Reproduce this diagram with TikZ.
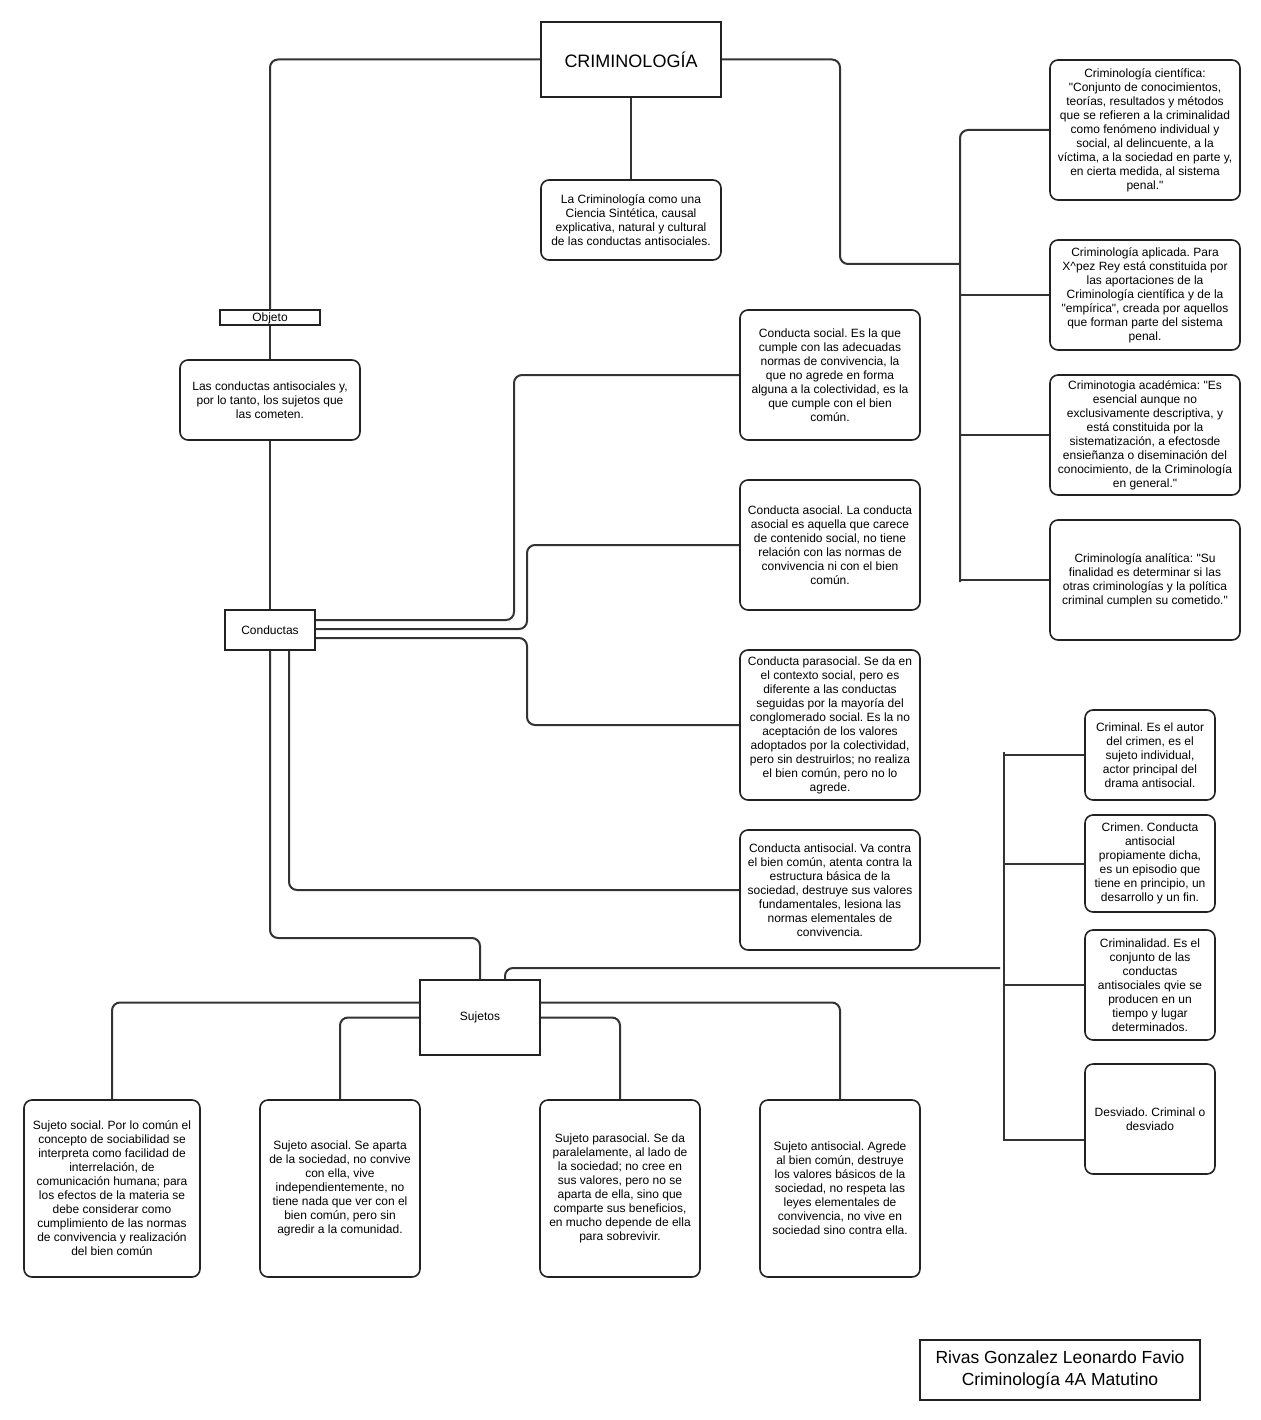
\documentclass[tikz,border=0pt]{standalone}
\usepackage{fontspec}
\setmainfont{Liberation Sans}
\newfontfamily\plainfont{Liberation Sans}[Ligatures=TeXOff]
\usetikzlibrary{calc}
\definecolor{boxc}{HTML}{222222}
\definecolor{linec}{HTML}{333333}
\newcommand\qq{{\plainfont\symbol{34}}}
\frenchspacing
\begin{document}
\begin{tikzpicture}[x=1pt,y=-1pt,
  rbox/.style={draw=boxc, line width=1.6pt, rounded corners=8pt, fill=white, align=center, inner sep=0pt, font=\fontsize{12}{14}\selectfont},
  sbox/.style={draw=boxc, line width=1.6pt, fill=white, align=center, inner sep=0pt, font=\fontsize{12}{14}\selectfont},
  conn/.style={draw=linec, line width=2pt, rounded corners=8pt},
  sconn/.style={draw=linec, line width=2pt},
]
\useasboundingbox[fill=white] (0,0) rectangle (1260,1420);

% top
\node[sbox, minimum width=180, minimum height=75, font=\fontsize{18}{22}\selectfont] (crim) at (631,59.5) {CRIMINOLOGÍA};
\node[rbox, minimum width=180, minimum height=80] (cien) at (631,220) {La Criminología como una\\Ciencia Sintética, causal\\explicativa, natural y cultural\\de las conductas antisociales.};
\node[sbox, minimum width=100, minimum height=15, line width=1.4pt, text depth=1pt] (obj) at (270,317.5) {Objeto};
\node[rbox, minimum width=180, minimum height=80] (lasc) at (270,400) {Las conductas antisociales y,\\por lo tanto, los sujetos que\\las cometen.};
\node[sbox, minimum width=90, minimum height=40] (cond) at (270,630) {Conductas};

% right column
\node[rbox, minimum width=190, minimum height=140] (c1) at (1145,130) {Criminología científica:\\\qq Conjunto de conocimientos,\\teorías, resultados y métodos\\que se refieren a la criminalidad\\como fenómeno individual y\\social, al delincuente, a la\\víctima, a la sociedad en parte y,\\en cierta medida, al sistema\\penal.\qq};
\node[rbox, minimum width=190, minimum height=110] (c2) at (1145,295) {Criminología aplicada. Para\\X\textasciicircum pez Rey está constituida por\\las aportaciones de la\\Criminología científica y de la\\\qq empírica\qq, creada por aquellos\\que forman parte del sistema\\penal.};
\node[rbox, minimum width=190, minimum height=120] (c3) at (1145,435) {Criminotogia académica: \qq Es\\esencial aunque no\\exclusivamente descriptiva, y\\está constituida por la\\sistematización, a efectosde\\ensieñanza o diseminación del\\conocimiento, de la Criminología\\en general.\qq};
\node[rbox, minimum width=190, minimum height=120] (c4) at (1145,580) {Criminología analítica: \qq Su\\finalidad es determinar si las\\otras criminologías y la política\\criminal cumplen su cometido.\qq};

% conductas column
\node[rbox, minimum width=180, minimum height=130] (csoc) at (830,375) {Conducta social. Es la que\\cumple con las adecuadas\\normas de convivencia, la\\que no agrede en forma\\alguna a la colectividad, es la\\que cumple con el bien\\común.};
\node[rbox, minimum width=180, minimum height=130] (casoc) at (830,545) {Conducta asocial. La conducta\\asocial es aquella que carece\\de contenido social, no tiene\\relación con las normas de\\convivencia ni con el bien\\común.};
\node[rbox, minimum width=180, minimum height=150] (cpara) at (830,725) {Conducta parasocial. Se da en\\el contexto social, pero es\\diferente a las conductas\\seguidas por la mayoría del\\conglomerado social. Es la no\\aceptación de los valores\\adoptados por la colectividad,\\pero sin destruirlos; no realiza\\el bien común, pero no lo\\agrede.};
\node[rbox, minimum width=180, minimum height=120] (canti) at (830,890) {Conducta antisocial. Va contra\\el bien común, atenta contra la\\estructura básica de la\\sociedad, destruye sus valores\\fundamentales, lesiona las\\normas elementales de\\convivencia.};

% sujetos
\node[sbox, minimum width=120, minimum height=75] (suj) at (480,1017.5) {Sujetos};
\node[rbox, minimum width=176, minimum height=177] (ss) at (112,1188.5) {Sujeto social. Por lo común el\\concepto de sociabilidad se\\interpreta como facilidad de\\interrelación, de\\comunicación humana; para\\los efectos de la materia se\\debe considerar como\\cumplimiento de las normas\\de convivencia y realización\\del bien común};
\node[rbox, minimum width=160, minimum height=177] (sa) at (340,1188.5) {Sujeto asocial. Se aparta\\de la sociedad, no convive\\con ella, vive\\independientemente, no\\tiene nada que ver con el\\bien común, pero sin\\agredir a la comunidad.};
\node[rbox, minimum width=160, minimum height=177] (sp) at (620,1188.5) {Sujeto parasocial. Se da\\paralelamente, al lado de\\la sociedad; no cree en\\sus valores, pero no se\\aparta de ella, sino que\\comparte sus beneficios,\\en mucho depende de ella\\para sobrevivir.};
\node[rbox, minimum width=160, minimum height=177] (sn) at (840,1188.5) {Sujeto antisocial. Agrede\\al bien común, destruye\\los valores básicos de la\\sociedad, no respeta las\\leyes elementales de\\convivencia, no vive en\\sociedad sino contra ella.};

% lower right
\node[rbox, minimum width=130, minimum height=90] (cr1) at (1150,755) {Criminal. Es el autor\\del crimen, es el\\sujeto individual,\\actor principal del\\drama antisocial.};
\node[rbox, minimum width=130, minimum height=97] (cr2) at (1150,863.5) {Crimen. Conducta\\antisocial\\propiamente dicha,\\es un episodio que\\tiene en principio, un\\desarrollo y un fin.};
\node[rbox, minimum width=130, minimum height=110] (cr3) at (1150,985) {Criminalidad. Es el\\conjunto de las\\conductas\\antisociales qvie se\\producen en un\\tiempo y lugar\\determinados.};
\node[rbox, minimum width=130, minimum height=110] (cr4) at (1150,1119) {Desviado. Criminal o\\desviado};

% footer
\node[sbox, minimum width=280, minimum height=60, font=\fontsize{17.5}{22}\selectfont] (foot) at (1060,1370) {Rivas Gonzalez Leonardo Favio\\Criminología 4A Matutino};

% ---- connectors ----
\draw[conn] (crim.west) -| (obj.north);
\draw[conn] (obj.south) -- (lasc.north);
\draw[conn] (lasc.south) -- (cond.north);
\draw[conn] (crim.south) -- (cien.north);

\coordinate (busA) at (960,0);
\coordinate (busAin) at (960,264);
\draw[conn] (crim.east) -- (840,59.5) -- (840,264) -- (busAin);
\draw[conn] (c1.west) -- (busA |- c1.west) -- ($(busA |- c4.west)+(0,2)$);
\draw[sconn] (busA |- c2.west) -- (c2.west);
\draw[sconn] (busA |- c3.west) -- (c3.west);
\draw[sconn] (busA |- c4.west) -- (c4.west);

\draw[conn] ($(cond.east)+(0,-10)$) -- (514,620) |- (csoc.west);
\draw[conn] ($(cond.east)+(0,-1)$) -- (527,629) |- (casoc.west);
\draw[conn] ($(cond.east)+(0,8)$) -- (527,638) |- (cpara.west);
\draw[conn] ($(cond.south)+(19,0)$) |- (canti.west);
\draw[conn] (cond.south) -- (270,938) -| (suj.north);

\draw[conn] ($(suj.west)+(0,-15)$) -| (ss.north);
\draw[conn] (suj.west) -| (sa.north);
\draw[conn] (suj.east) -| (sp.north);
\draw[conn] ($(suj.east)+(0,-15)$) -| (sn.north);

\coordinate (sujend) at (1000,968);
\draw[conn] ($(suj.north)+(25,0)$) |- (sujend);
\coordinate (busB) at (1004,0);
\draw[sconn] (1004,752) -- (1004,1141);
\draw[sconn] (busB |- cr1.west) -- (cr1.west);
\draw[sconn] (busB |- cr2.west) -- (cr2.west);
\draw[sconn] (busB |- cr3.west) -- (cr3.west);
\draw[sconn] (1004,1140) -- ($(cr4.west)+(0,21)$);
\end{tikzpicture}
\end{document}
